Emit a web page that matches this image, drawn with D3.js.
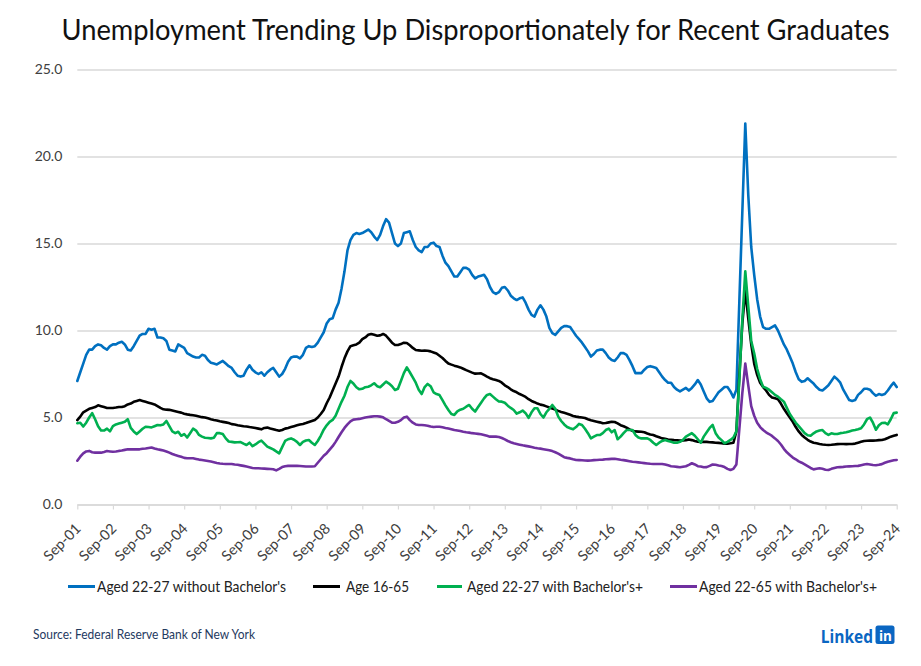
<!DOCTYPE html>
<html><head><meta charset="utf-8">
<script src="https://cdn.jsdelivr.net/npm/d3@7"></script>
<style>
body{margin:0;background:#fff;}
svg{display:block;font-family:Lato,"Open Sans",sans-serif;}
</style>
</head><body>
<svg id="chart" width="921" height="666"></svg>
<script>
// ---------- DATA ----------
const chartTitle = "Unemployment Trending Up Disproportionately for Recent Graduates";
const sourceText = "Source: Federal Reserve Bank of New York";
const tickLabels = ["Sep-01","Sep-02","Sep-03","Sep-04","Sep-05","Sep-06","Sep-07","Sep-08","Sep-09","Sep-10","Sep-11","Sep-12","Sep-13","Sep-14","Sep-15","Sep-16","Sep-17","Sep-18","Sep-19","Sep-20","Sep-21","Sep-22","Sep-23","Sep-24"];
const yTickValues = [0,5,10,15,20,25];
const seriesNames = ["Aged 22-27 without Bachelor's","Age 16-65","Aged 22-27 with Bachelor's+","Aged 22-65 with Bachelor's+"];

// monthly values, Sep-01 .. Sep-24 (each row = Sep..Aug)
const aged2227NoBachelors = [
 7.1,7.6,8.1,8.6,8.9,8.9,9.1,9.2,9.15,9.0,8.9,9.1,
 9.2,9.2,9.3,9.35,9.2,8.9,8.85,9.1,9.4,9.7,9.8,9.8,
 10.1,10.05,10.1,9.6,9.6,9.55,9.4,8.9,8.85,8.8,9.2,9.1,
 9.0,8.7,8.6,8.5,8.45,8.45,8.6,8.55,8.3,8.15,8.1,8.05,
 8.15,8.25,8.1,7.95,7.85,7.6,7.4,7.35,7.4,7.75,8.0,7.75,
 7.6,7.5,7.6,7.4,7.6,7.75,7.85,7.6,7.35,7.5,7.8,8.2,
 8.45,8.5,8.5,8.4,8.6,9.0,9.1,9.05,9.1,9.3,9.6,9.9,
 10.4,10.65,10.7,11.2,11.6,12.4,13.4,14.6,15.2,15.5,15.6,15.55,
 15.6,15.7,15.8,15.65,15.4,15.2,15.5,16.0,16.4,16.2,15.6,15.0,
 14.85,15.0,15.6,15.65,15.7,15.2,14.8,14.6,14.5,14.8,14.8,15.0,
 15.05,14.85,14.8,14.3,13.9,13.7,13.4,13.1,13.1,13.35,13.6,13.6,
 13.5,13.2,13.0,13.1,13.15,13.2,12.95,12.5,12.2,12.1,12.2,12.45,
 12.5,12.3,12.0,11.85,11.75,11.85,11.9,11.6,11.2,10.9,10.8,11.2,
 11.45,11.2,10.8,10.15,9.85,9.75,9.95,10.15,10.25,10.25,10.2,9.95,
 9.7,9.5,9.3,9.05,8.8,8.5,8.65,8.85,8.9,8.9,8.7,8.45,
 8.3,8.25,8.45,8.7,8.7,8.6,8.3,7.95,7.55,7.55,7.55,7.75,
 7.9,7.95,7.9,7.85,7.6,7.35,7.15,7.0,7.0,6.75,6.6,6.5,
 6.6,6.7,6.55,6.7,6.9,7.15,6.9,6.5,6.1,5.9,5.95,6.2,
 6.45,6.6,6.75,6.75,6.5,6.15,6.6,11.7,16.8,21.9,17.8,14.8,
 13.2,11.8,10.8,10.2,10.1,10.1,10.2,10.3,10.0,9.6,9.2,8.9,
 8.5,8.1,7.6,7.2,7.05,7.1,7.25,7.1,6.95,6.75,6.6,6.55,
 6.7,6.85,7.1,7.35,7.2,7.0,6.6,6.3,6.0,5.95,6.0,6.3,
 6.45,6.65,6.65,6.6,6.4,6.25,6.35,6.3,6.35,6.55,6.8,7.0,6.75
];
const age1665 = [
 4.85,5.05,5.3,5.4,5.5,5.55,5.6,5.7,5.65,5.6,5.55,5.55,
 5.55,5.57,5.6,5.6,5.65,5.75,5.8,5.9,5.95,6.0,5.95,5.9,
 5.85,5.8,5.75,5.65,5.55,5.47,5.45,5.44,5.4,5.36,5.32,5.28,
 5.22,5.18,5.15,5.13,5.1,5.06,5.02,5.0,4.95,4.9,4.86,4.83,
 4.78,4.75,4.72,4.68,4.62,4.6,4.56,4.53,4.5,4.48,4.45,4.43,
 4.4,4.36,4.32,4.4,4.42,4.37,4.33,4.28,4.24,4.28,4.36,4.4,
 4.45,4.5,4.55,4.6,4.63,4.68,4.74,4.8,4.86,5.0,5.2,5.43,
 5.82,6.15,6.55,6.95,7.35,7.9,8.4,8.8,9.1,9.15,9.2,9.3,
 9.5,9.6,9.75,9.8,9.75,9.7,9.72,9.8,9.7,9.5,9.3,9.17,
 9.17,9.22,9.3,9.28,9.15,9.0,8.88,8.86,8.84,8.85,8.84,8.8,
 8.74,8.68,8.55,8.42,8.25,8.1,8.04,7.98,7.93,7.88,7.8,7.72,
 7.65,7.58,7.52,7.53,7.54,7.45,7.35,7.26,7.2,7.15,7.1,7.0,
 6.85,6.75,6.62,6.52,6.45,6.35,6.27,6.18,6.05,5.95,5.88,5.8,
 5.74,5.7,5.64,5.58,5.52,5.45,5.38,5.32,5.27,5.22,5.16,5.09,
 5.05,5.02,5.0,4.97,4.9,4.84,4.8,4.76,4.72,4.67,4.68,4.72,
 4.76,4.74,4.66,4.56,4.5,4.42,4.32,4.24,4.2,4.19,4.18,4.15,
 4.08,4.02,3.99,3.92,3.86,3.8,3.77,3.74,3.72,3.7,3.69,3.67,
 3.68,3.7,3.74,3.7,3.65,3.61,3.6,3.6,3.6,3.58,3.57,3.55,
 3.54,3.52,3.5,3.5,3.52,3.55,4.2,7.4,10.4,12.3,10.7,9.2,
 8.1,7.45,7.0,6.75,6.55,6.3,6.15,6.1,6.05,5.8,5.5,5.25,
 5.0,4.75,4.45,4.2,4.0,3.85,3.72,3.62,3.55,3.52,3.48,3.45,
 3.43,3.42,3.43,3.45,3.47,3.48,3.48,3.47,3.48,3.48,3.5,3.55,
 3.6,3.65,3.66,3.67,3.67,3.68,3.7,3.71,3.75,3.82,3.9,3.95,4.0
];
const aged2227Bachelors = [
 4.67,4.7,4.48,4.7,5.0,5.25,4.9,4.5,4.25,4.25,4.36,4.2,
 4.5,4.6,4.65,4.7,4.75,4.9,4.4,4.2,4.05,4.2,4.35,4.47,
 4.45,4.43,4.5,4.57,4.55,4.6,4.8,4.5,4.2,4.1,4.18,3.95,
 4.05,3.85,4.1,4.36,4.25,4.0,3.9,3.84,3.82,3.8,3.84,4.1,
 4.1,4.05,3.8,3.62,3.6,3.57,3.58,3.59,3.5,3.42,3.55,3.35,
 3.45,3.58,3.67,3.5,3.33,3.25,3.17,3.05,2.94,3.3,3.65,3.75,
 3.8,3.72,3.6,3.42,3.6,3.68,3.71,3.55,3.42,3.65,3.95,4.3,
 4.55,4.75,4.86,5.1,5.5,5.9,6.25,6.75,7.1,6.95,6.74,6.62,
 6.65,6.74,6.77,6.85,6.97,6.8,6.74,6.9,7.06,6.95,6.8,6.58,
 6.65,7.1,7.55,7.88,7.6,7.3,7.0,6.6,6.35,6.75,6.93,6.8,
 6.45,6.35,6.29,6.0,5.7,5.43,5.2,5.15,5.35,5.45,5.5,5.62,
 5.72,5.5,5.34,5.6,5.85,6.1,6.3,6.35,6.2,6.05,5.92,5.91,
 5.85,5.68,5.55,5.43,5.22,5.3,5.4,5.25,4.98,5.3,5.53,5.53,
 5.2,5.0,5.3,5.5,5.72,5.5,5.05,4.8,4.6,4.45,4.38,4.32,
 4.45,4.63,4.57,4.35,4.1,3.8,3.9,3.99,3.99,4.1,4.28,4.36,
 4.15,4.28,3.75,3.9,4.1,4.28,4.28,4.28,4.0,3.85,3.8,3.8,
 3.8,3.71,3.55,3.42,3.55,3.65,3.71,3.65,3.6,3.55,3.55,3.6,
 3.71,3.9,4.0,4.1,3.95,3.75,3.55,3.9,4.15,4.4,4.57,4.1,
 3.85,3.7,3.52,3.6,3.71,3.85,4.2,7.2,10.6,13.4,11.4,9.4,
 8.69,7.8,7.2,6.77,6.7,6.6,6.45,6.3,6.2,6.05,5.91,5.55,
 5.2,4.95,4.7,4.5,4.3,4.1,3.98,3.95,4.09,4.2,4.25,4.28,
 4.1,4.0,4.09,4.05,4.05,4.1,4.12,4.15,4.2,4.25,4.28,4.32,
 4.38,4.6,4.9,5.0,4.7,4.3,4.55,4.68,4.7,4.6,4.9,5.25,5.28
];
const aged2265Bachelors = [
 2.52,2.75,2.94,3.05,3.08,3.0,2.98,2.98,2.98,3.02,3.07,3.05,
 3.03,3.05,3.08,3.1,3.14,3.17,3.17,3.17,3.17,3.17,3.2,3.22,
 3.25,3.28,3.22,3.17,3.14,3.1,3.05,2.98,2.9,2.84,2.79,2.74,
 2.68,2.66,2.66,2.66,2.62,2.58,2.56,2.53,2.5,2.47,2.43,2.39,
 2.36,2.34,2.33,2.33,2.33,2.3,2.28,2.25,2.22,2.18,2.14,2.1,
 2.08,2.08,2.07,2.06,2.05,2.04,2.03,1.96,2.05,2.15,2.2,2.22,
 2.22,2.22,2.22,2.21,2.2,2.18,2.18,2.18,2.2,2.4,2.6,2.8,
 2.95,3.15,3.35,3.6,3.88,4.15,4.4,4.6,4.78,4.88,4.9,4.92,
 4.96,5.0,5.03,5.05,5.07,5.07,5.05,5.01,4.9,4.8,4.7,4.7,
 4.75,4.85,5.0,5.05,4.85,4.7,4.6,4.57,4.57,4.55,4.53,4.48,
 4.45,4.47,4.47,4.44,4.4,4.37,4.33,4.28,4.25,4.22,4.18,4.15,
 4.13,4.1,4.08,4.06,4.04,4.0,3.95,3.9,3.9,3.9,3.88,3.82,
 3.74,3.65,3.58,3.52,3.48,3.44,3.4,3.37,3.34,3.3,3.26,3.23,
 3.21,3.18,3.15,3.12,3.07,3.0,2.92,2.82,2.72,2.68,2.65,2.6,
 2.56,2.55,2.54,2.53,2.52,2.53,2.55,2.56,2.57,2.58,2.6,2.61,
 2.62,2.63,2.6,2.57,2.55,2.52,2.49,2.46,2.44,2.42,2.4,2.38,
 2.36,2.34,2.33,2.33,2.33,2.33,2.3,2.25,2.2,2.18,2.16,2.14,
 2.17,2.2,2.28,2.37,2.3,2.2,2.18,2.14,2.15,2.22,2.3,2.28,
 2.24,2.21,2.15,2.05,1.98,2.05,2.3,4.35,6.4,8.1,6.85,5.65,
 5.1,4.7,4.45,4.28,4.15,4.05,3.94,3.8,3.65,3.45,3.2,3.0,
 2.85,2.7,2.6,2.48,2.4,2.3,2.2,2.1,2.02,2.05,2.08,2.05,
 2.0,1.98,2.05,2.1,2.14,2.15,2.16,2.18,2.19,2.2,2.21,2.22,
 2.26,2.3,2.33,2.3,2.27,2.26,2.28,2.32,2.4,2.46,2.5,2.54,2.56
];

// ---------- STYLE ----------
const colors = ["#0070c0","#000000","#00b050","#7030a0"];
const seriesData = [aged2227NoBachelors, age1665, aged2227Bachelors, aged2265Bachelors];

const svg = d3.select("#chart");
const plot = {left:77.3, right:896.7, top:69.5, bottom:504.5};

const x = d3.scaleLinear().domain([0, aged2227NoBachelors.length - 1]).range([plot.left, plot.right]);
const y = d3.scaleLinear().domain([0, 25]).range([plot.bottom, plot.top]);

// title
svg.append("text")
  .attr("x", 61.5).attr("y", 40)
  .attr("font-size", 28).attr("fill", "#111")
  .attr("textLength", 828).attr("lengthAdjust", "spacingAndGlyphs")
  .text(chartTitle);

// y gridlines & labels
const yAxis = d3.axisLeft(y).tickValues(yTickValues).tickFormat(d3.format(".1f"))
  .tickSize(-(plot.right - plot.left)).tickPadding(15);
const gy = svg.append("g").attr("transform", `translate(${plot.left},0)`).call(yAxis);
gy.select(".domain").remove();
gy.selectAll(".tick line").attr("stroke", "#d9d9d9").attr("stroke-width", 1.5);
gy.selectAll(".tick text").attr("font-size", 14).attr("fill", "#404040")
  .attr("font-family", "Lato, 'Open Sans', sans-serif");

// x axis
const tickIdx = tickLabels.map((d, i) => i * 12);
const xAxis = d3.axisBottom(x).tickValues(tickIdx).tickFormat((d, i) => tickLabels[i])
  .tickSizeInner(5).tickSizeOuter(0).tickPadding(2);
const gx = svg.append("g").attr("transform", `translate(0,${plot.bottom})`).call(xAxis);
gx.select(".domain").attr("stroke", "#d9d9d9").attr("stroke-width", 1.5);
gx.selectAll(".tick line").attr("stroke", "#d9d9d9").attr("stroke-width", 1.2);
gx.selectAll(".tick text")
  .attr("font-size", 14.5).attr("fill", "#404040")
  .attr("font-family", "Lato, 'Open Sans', sans-serif")
  .attr("text-anchor", "end")
  .attr("dy", null).attr("y", 0)
  .attr("transform", "translate(4,25) rotate(-45)");

// lines
const line = d3.line().x((d, i) => x(i)).y(d => y(d)).curve(d3.curveLinear);
seriesData.forEach((s, k) => {
  svg.append("path").datum(s)
    .attr("d", line)
    .attr("fill", "none")
    .attr("stroke", colors[k])
    .attr("stroke-width", 2.6)
    .attr("stroke-linejoin", "round")
    .attr("stroke-linecap", "round");
});

// legend
const legendItems = [
  {x1:68, x2:95, tx:97, tl:189},
  {x1:313, x2:340, tx:346, tl:63},
  {x1:437, x2:462, tx:467, tl:176},
  {x1:670, x2:697, tx:699, tl:178}
];
const lg = svg.append("g");
legendItems.forEach((it, k) => {
  lg.append("line").attr("x1", it.x1).attr("x2", it.x2).attr("y1", 586.5).attr("y2", 586.5)
    .attr("stroke", colors[k]).attr("stroke-width", 3);
  lg.append("text").attr("x", it.tx).attr("y", 591.5)
    .attr("font-size", 15).attr("fill", "#222")
    .attr("textLength", it.tl).attr("lengthAdjust", "spacingAndGlyphs")
    .text(seriesNames[k]);
});

// source
svg.append("text").attr("x", 33).attr("y", 638.5)
  .attr("font-size", 12.5).attr("fill", "#1f3a5f")
  .attr("textLength", 222).attr("lengthAdjust", "spacingAndGlyphs")
  .text(sourceText);

// LinkedIn logo
const logo = svg.append("g");
logo.append("text")
  .attr("transform", "translate(873,642.5) scale(1,1.2)")
  .attr("text-anchor", "end")
  .attr("font-size", 15.5).attr("font-weight", "bold").attr("fill", "#0a66c2")
  .attr("font-family", "'Open Sans', Lato, sans-serif")
  .text("Linked");
logo.append("rect").attr("x", 875.5).attr("y", 625.5).attr("width", 19).attr("height", 18.5)
  .attr("rx", 2.5).attr("fill", "#0a66c2");
logo.append("text").attr("x", 885.5).attr("y", 640.5).attr("text-anchor", "middle")
  .attr("font-size", 13.5).attr("font-weight", "bold").attr("fill", "#fff")
  .attr("font-family", "'Open Sans', Lato, sans-serif")
  .text("in");
</script>
</body></html>
